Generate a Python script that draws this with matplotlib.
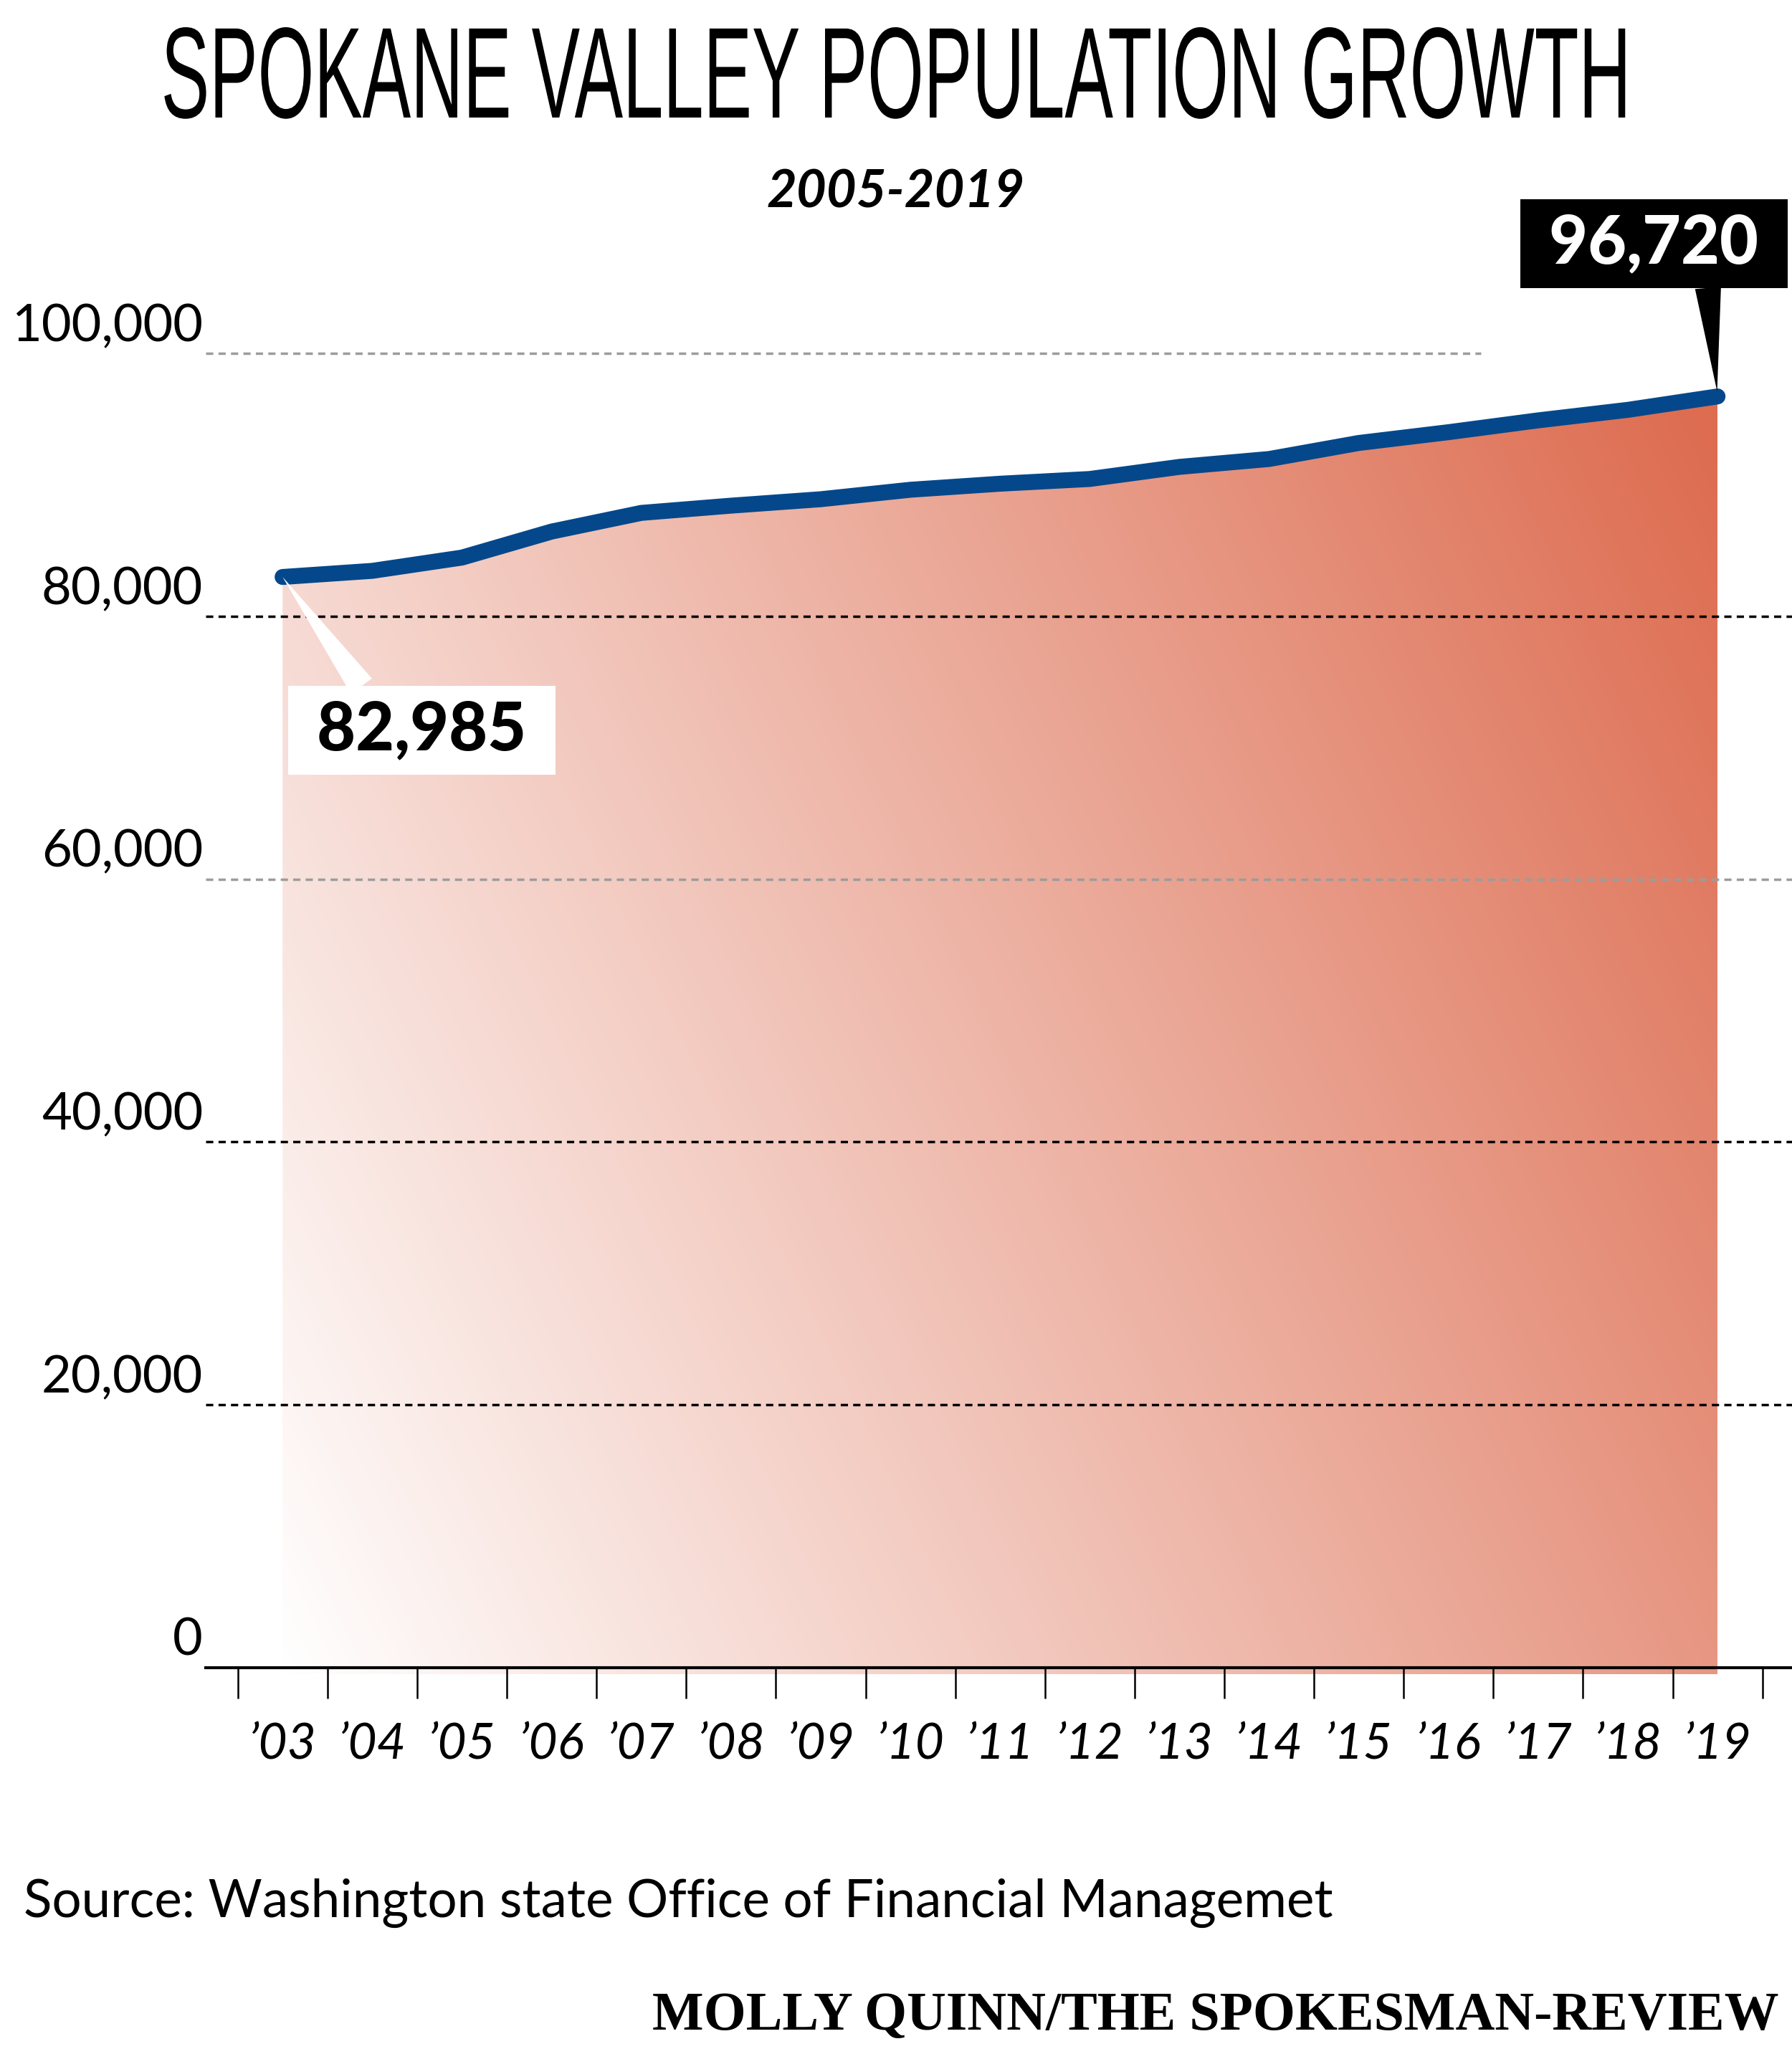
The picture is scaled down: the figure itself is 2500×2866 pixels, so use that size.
import numpy as np
import matplotlib
matplotlib.use('Agg')
import matplotlib.pyplot as plt
from matplotlib import font_manager, patheffects
from matplotlib.patches import Polygon
from matplotlib.ticker import NullFormatter
from matplotlib.transforms import Affine2D, offset_copy

# Dados
anos = [2003, 2004, 2005, 2006, 2007, 2008, 2009, 2010, 2011,
        2012, 2013, 2014, 2015, 2016, 2017, 2018, 2019]
rotulos_x = ['’03', '’04', '’05', '’06', '’07', '’08', '’09', '’10', '’11',
             '’12', '’13', '’14', '’15', '’16', '’17', '’18', '’19']
populacao = [82985, 83450, 84460, 86440, 87860, 88410, 88900, 89620, 90080,
             90440, 91360, 91960, 93180, 94000, 94900, 95700, 96720]
valores_y = [0, 20000, 40000, 60000, 80000, 100000]
rotulos_y = ['0', '20,000', '40,000', '60,000', '80,000', '100,000']

titulo = 'SPOKANE VALLEY POPULATION GROWTH'
subtitulo = '2005-2019'
fonte = 'Source: Washington state Office of Financial Managemet'
credito = 'MOLLY QUINN/THE SPOKESMAN-REVIEW'

# Escolhe fontes instaladas
nomes = {f.name for f in font_manager.fontManager.ttflist}


def escolhe(*candidatas):
    for c in candidatas:
        if c in nomes:
            return c
    return 'DejaVu Sans'


fonte_texto = escolhe('Lato', 'Open Sans', 'Noto Sans')
fonte_titulo = escolhe('Liberation Sans Narrow', 'DejaVu Sans Condensed', 'Liberation Sans')
fonte_serifa = escolhe('Liberation Serif', 'DejaVu Serif')
plt.rcParams['font.family'] = [fonte_texto, 'DejaVu Sans']


# Estica o texto na vertical (fonte condensada do titulo)
class Estica(patheffects.AbstractPathEffect):
    def __init__(self, sy):
        super().__init__()
        self.sy = sy

    def draw_path(self, renderer, gc, tpath, affine, rgbFace=None):
        m = affine.get_matrix()
        x0, y0 = m[0, 2], m[1, 2]
        extra = Affine2D().translate(-x0, -y0).scale(1, self.sy).translate(x0, y0)
        renderer.draw_path(gc, tpath, affine + extra, rgbFace)


W, H = 2500, 2866
fig = plt.figure(figsize=(W / 100, H / 100), dpi=100)
fig.patch.set_facecolor('white')

# Eixo em pixels: esquerda 287, linha do zero em 2327, 183.4 px por 10 mil
x0, x1 = 2002.143, 2019.83
y0, y1 = -500, 105000
ax = fig.add_axes([287 / W, (H - 2327 - 500 * 0.01834) / H,
                   (W - 287) / W, (y1 - y0) * 0.01834 / H])
ax.patch.set_visible(False)

# Preenchimento em degrade (branco embaixo a esquerda -> laranja em cima a direita)
gx, gy = np.meshgrid(np.linspace(0, 1, 500), np.linspace(0, 1, 500))
t = np.clip(0.71 * gx + 0.31 * gy, 0, 1)
cor_final = np.array([221, 108, 80]) / 255
img = 1 - t[..., None] * (1 - cor_final)
im = ax.imshow(img, extent=(anos[0], anos[-1], y0, 100000), origin='lower',
               aspect='auto', interpolation='bilinear', zorder=1)
contorno = Polygon(list(zip([anos[0]] + anos + [anos[-1]],
                            [y0] + populacao + [y0])),
                   transform=ax.transData, facecolor='none', edgecolor='none')
ax.add_patch(contorno)
im.set_clip_path(contorno)

# Linhas de grade tracejadas
for v in valores_y[1:]:
    fim = 2016.36 if v == 100000 else x1
    cor = '#9c9c9c' if v in (60000, 100000) else 'black'
    ax.hlines(v, x0, fim, colors=cor, lw=2.5, linestyles=(0, (2.9, 2.1)), zorder=3)

# Linha da populacao
ax.plot(anos, populacao, color='#04488b', lw=16, solid_capstyle='round',
        solid_joinstyle='round', zorder=4)

ax.set_xlim(x0, x1)
ax.set_ylim(y0, y1)

for lado in ['left', 'top', 'right']:
    ax.spines[lado].set_visible(False)
ax.spines['bottom'].set_position(('data', 0))
ax.spines['bottom'].set_linewidth(3)
ax.spines['bottom'].set_zorder(3.5)

# Marcas entre os anos, rotulos no centro
ax.set_xticks([a - 0.5 for a in anos] + [anos[-1] + 0.5])
ax.xaxis.set_major_formatter(NullFormatter())
ax.set_xticks(anos, labels=rotulos_x, minor=True, fontsize=50,
              fontstyle='italic', family=fonte_texto)
ax.tick_params(axis='x', which='major', length=31, width=1.8, direction='out')
ax.tick_params(axis='x', which='minor', length=0, pad=55)
ax.set_yticks([])

trans = offset_copy(ax.get_yaxis_transform(), fig=fig, x=-4, y=17, units='dots')
for v, r in zip(valores_y, rotulos_y):
    ax.text(0, v, r, transform=trans, ha='right', va='baseline', fontsize=52,
            family=fonte_texto)

# Caixas com o primeiro e o ultimo valor
ax.annotate(' {:,} '.format(populacao[0]), xy=(anos[0], populacao[0]),
            xytext=(139.7, -154), textcoords='offset points', ha='center',
            va='center', fontsize=67, fontweight='black', color='black',
            family=fonte_texto, zorder=6,
            bbox=dict(boxstyle='square,pad=0.2', fc='white', ec='none'),
            arrowprops=dict(arrowstyle='wedge,tail_width=0.39,shrink_factor=0.5',
                            fc='white', ec='none', relpos=(0.29, 1.0),
                            shrinkA=0, shrinkB=0))
ax.annotate(' {:,} '.format(populacao[-1]), xy=(anos[-1], populacao[-1]),
            xytext=(-64, 153.4), textcoords='offset points', ha='center',
            va='center', fontsize=67, fontweight='black', color='white',
            family=fonte_texto, zorder=6, annotation_clip=False,
            bbox=dict(boxstyle='square,pad=0.2', fc='black', ec='none'),
            arrowprops=dict(arrowstyle='wedge,tail_width=0.39,shrink_factor=0.5',
                            fc='black', ec='none', relpos=(0.72, 0.0),
                            shrinkA=0, shrinkB=5))

# Textos do cabecalho e rodape
renderer = fig.canvas.get_renderer()


def ajusta_largura(texto, largura):
    w = texto.get_window_extent(renderer).width
    texto.set_fontsize(texto.get_fontsize() * largura / w)


t_titulo = fig.text(0.5, 1 - 164 / H, titulo, ha='center', va='baseline',
                    fontsize=84, family=[fonte_titulo, 'DejaVu Sans'])
ajusta_largura(t_titulo, 2050)
t_titulo.set_path_effects([Estica(130 / (0.72 * t_titulo.get_fontsize() * 100 / 72))])

fig.text(0.5, 1 - 290 / H, subtitulo, ha='center', va='baseline', fontsize=52,
         fontweight='bold', fontstyle='italic', family=fonte_texto)

t_fonte = fig.text(33 / W, 1 - 2675 / H, fonte, ha='left', va='baseline',
                   fontsize=52, family=fonte_texto)
ajusta_largura(t_fonte, 1827)

t_credito = fig.text(2482 / W, 1 - 2832 / H, credito, ha='right', va='baseline',
                     fontsize=56, fontweight='bold', family=[fonte_serifa, 'DejaVu Serif'])
ajusta_largura(t_credito, 1570)

fig.savefig('out.png', dpi=100, facecolor='white')
